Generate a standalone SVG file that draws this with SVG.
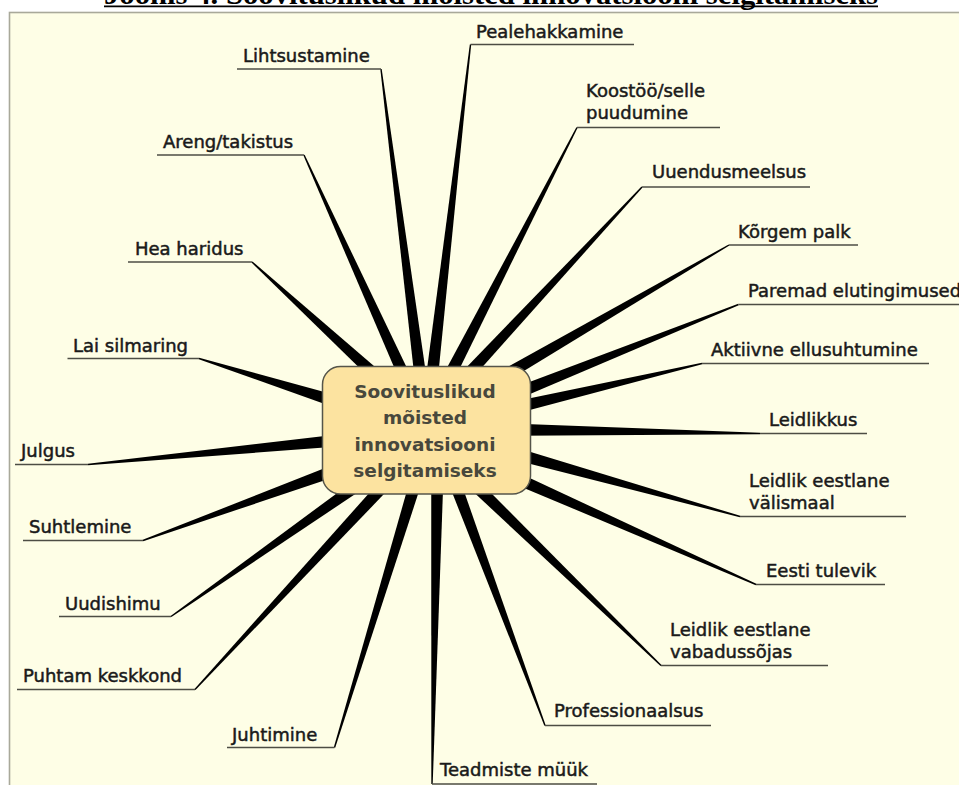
<svg xmlns="http://www.w3.org/2000/svg" width="959" height="785" viewBox="0 0 959 785">
<style>
.lbl{font-family:"DejaVu Sans","Liberation Sans",sans-serif;font-size:18px;fill:#1a1a1a;stroke:#1a1a1a;stroke-width:0.5}
.ul{stroke:#4d4d44;stroke-width:1.6;fill:none}
.sp{fill:#000}
.ctr{font-family:"DejaVu Sans","Liberation Sans",sans-serif;font-size:18.5px;font-weight:bold;fill:#48483c;text-anchor:middle}
</style>
<rect x="0" y="0" width="959" height="785" fill="#ffffff"/>
<g id="title">
<text x="104" y="4" font-family="Liberation Serif,serif" font-size="30" font-weight="bold" textLength="774" lengthAdjust="spacingAndGlyphs" fill="#000">Joonis 4. Soovituslikud mõisted innovatsiooni selgitamiseks</text>
<line x1="104" y1="6.4" x2="878" y2="6.4" stroke="#000" stroke-width="1.6"/>
</g>
<rect id="frame" x="9.5" y="12.5" width="970" height="790" fill="#FEFEE6" stroke="#A9A99A" stroke-width="1.6"/>
<g id="connectors">
<polygon class="sp" points="0,-0.7 167,-6 167,6 0,0.7" transform="translate(252 262) rotate(42.5)"/>
<polygon class="sp" points="0,-0.7 245,-6 245,6 0,0.7" transform="translate(304 155) rotate(65.6)"/>
<polygon class="sp" points="0,-0.7 312,-6 312,6 0,0.7" transform="translate(381 69) rotate(82.7)"/>
<polygon class="sp" points="0,-0.7 336,-6 336,6 0,0.7" transform="translate(470.5 44.5) rotate(96.6)"/>
<polygon class="sp" points="0,-0.7 281,-6 281,6 0,0.7" transform="translate(577 127.5) rotate(117.2)"/>
<polygon class="sp" points="0,-0.7 257,-6 257,6 0,0.7" transform="translate(642 187) rotate(132.9)"/>
<polygon class="sp" points="0,-0.7 256,-6 256,6 0,0.7" transform="translate(729 245) rotate(149.8)"/>
<polygon class="sp" points="0,-0.7 237,-6 237,6 0,0.7" transform="translate(738.5 304.5) rotate(158.2)"/>
<polygon class="sp" points="0,-0.7 189,-6 189,6 0,0.7" transform="translate(702 363.5) rotate(166.75)"/>
<polygon class="sp" points="0,-0.7 242,-6 242,6 0,0.7" transform="translate(760 433.5) rotate(180.87)"/>
<polygon class="sp" points="0,-0.7 230,-6 230,6 0,0.7" transform="translate(740 516.5) rotate(195.6)"/>
<polygon class="sp" points="0,-0.7 263,-6 263,6 0,0.7" transform="translate(756 584.5) rotate(203.9)"/>
<polygon class="sp" points="0,-0.7 259,-6 259,6 0,0.7" transform="translate(661 665.5) rotate(224.1)"/>
<polygon class="sp" points="0,-0.7 259,-6 259,6 0,0.7" transform="translate(545 725.5) rotate(249.6)"/>
<polygon class="sp" points="0,-0.7 302,-6 302,6 0,0.7" transform="translate(432 784) rotate(271)"/>
<polygon class="sp" points="0,-0.7 277,-6 277,6 0,0.7" transform="translate(334.5 747.5) rotate(-73)"/>
<polygon class="sp" points="0,-0.7 278,-6 278,6 0,0.7" transform="translate(195 689.5) rotate(-47.2)"/>
<polygon class="sp" points="0,-0.7 232,-6 232,6 0,0.7" transform="translate(171 616.5) rotate(-35.1)"/>
<polygon class="sp" points="0,-0.7 204,-6 204,6 0,0.7" transform="translate(143 540.5) rotate(-20)"/>
<polygon class="sp" points="0,-0.7 247,-6 247,6 0,0.7" transform="translate(88 464.5) rotate(-5.49)"/>
<polygon class="sp" points="0,-0.7 141,-6 141,6 0,0.7" transform="translate(199 358.5) rotate(17.4)"/>
</g>
<g id="center">
<rect x="322.5" y="366.5" width="208" height="127.5" rx="18" ry="18" fill="#FCE3A0" stroke="#55554a" stroke-width="1.5"/>
<text class="ctr" x="425" y="398">Soovituslikud</text>
<text class="ctr" x="425" y="424">mõisted</text>
<text class="ctr" x="425" y="450.5">innovatsiooni</text>
<text class="ctr" x="425" y="476.5">selgitamiseks</text>
</g>
<g id="n-pealehakkamine"><line class="ul" x1="470.5" y1="44.5" x2="634" y2="44.5"/><text class="lbl" x="476" y="38">Pealehakkamine</text></g>
<g id="n-lihtsustamine"><line class="ul" x1="237" y1="69" x2="381" y2="69"/><text class="lbl" x="243" y="62">Lihtsustamine</text></g>
<g id="n-koostoo"><line class="ul" x1="577" y1="127.5" x2="720" y2="127.5"/><text class="lbl" x="586" y="96.5">Koostöö/selle</text><text class="lbl" x="586" y="119">puudumine</text></g>
<g id="n-areng"><line class="ul" x1="157" y1="155" x2="304" y2="155"/><text class="lbl" x="163" y="147.5">Areng/takistus</text></g>
<g id="n-uuendusmeelsus"><line class="ul" x1="642" y1="187" x2="810" y2="187"/><text class="lbl" x="652" y="178">Uuendusmeelsus</text></g>
<g id="n-korgem"><line class="ul" x1="729" y1="245" x2="858" y2="245"/><text class="lbl" x="738" y="238">Kõrgem palk</text></g>
<g id="n-hea"><line class="ul" x1="128" y1="262" x2="252" y2="262"/><text class="lbl" x="135" y="255">Hea haridus</text></g>
<g id="n-paremad"><line class="ul" x1="738.5" y1="304.5" x2="962" y2="304.5"/><text class="lbl" x="748" y="296.5">Paremad elutingimused</text></g>
<g id="n-lai"><line class="ul" x1="67.5" y1="358.5" x2="199" y2="358.5"/><text class="lbl" x="73" y="351.5">Lai silmaring</text></g>
<g id="n-aktiivne"><line class="ul" x1="702" y1="363.5" x2="929" y2="363.5"/><text class="lbl" x="711" y="356">Aktiivne ellusuhtumine</text></g>
<g id="n-leidlikkus"><line class="ul" x1="760" y1="433.5" x2="867" y2="433.5"/><text class="lbl" x="769" y="426">Leidlikkus</text></g>
<g id="n-julgus"><line class="ul" x1="15" y1="464.5" x2="88" y2="464.5"/><text class="lbl" x="21" y="457">Julgus</text></g>
<g id="n-valismaal"><line class="ul" x1="740" y1="516.5" x2="906" y2="516.5"/><text class="lbl" x="749" y="486.5">Leidlik eestlane</text><text class="lbl" x="749" y="509">välismaal</text></g>
<g id="n-suhtlemine"><line class="ul" x1="23" y1="540.5" x2="143" y2="540.5"/><text class="lbl" x="29" y="533">Suhtlemine</text></g>
<g id="n-eesti"><line class="ul" x1="756" y1="584.5" x2="885" y2="584.5"/><text class="lbl" x="766" y="576.5">Eesti tulevik</text></g>
<g id="n-uudishimu"><line class="ul" x1="59" y1="616.5" x2="171" y2="616.5"/><text class="lbl" x="65" y="610">Uudishimu</text></g>
<g id="n-vabadussojas"><line class="ul" x1="661" y1="665.5" x2="828" y2="665.5"/><text class="lbl" x="670" y="636">Leidlik eestlane</text><text class="lbl" x="670" y="657.5">vabadussõjas</text></g>
<g id="n-puhtam"><line class="ul" x1="17" y1="689.5" x2="195" y2="689.5"/><text class="lbl" x="23" y="681.5">Puhtam keskkond</text></g>
<g id="n-professionaalsus"><line class="ul" x1="545" y1="725.5" x2="711" y2="725.5"/><text class="lbl" x="554" y="717">Professionaalsus</text></g>
<g id="n-juhtimine"><line class="ul" x1="227" y1="747.5" x2="334.5" y2="747.5"/><text class="lbl" x="232" y="740.5">Juhtimine</text></g>
<g id="n-teadmiste"><line class="ul" x1="432" y1="784" x2="597" y2="784"/><text class="lbl" x="440" y="776">Teadmiste müük</text></g>
</svg>
